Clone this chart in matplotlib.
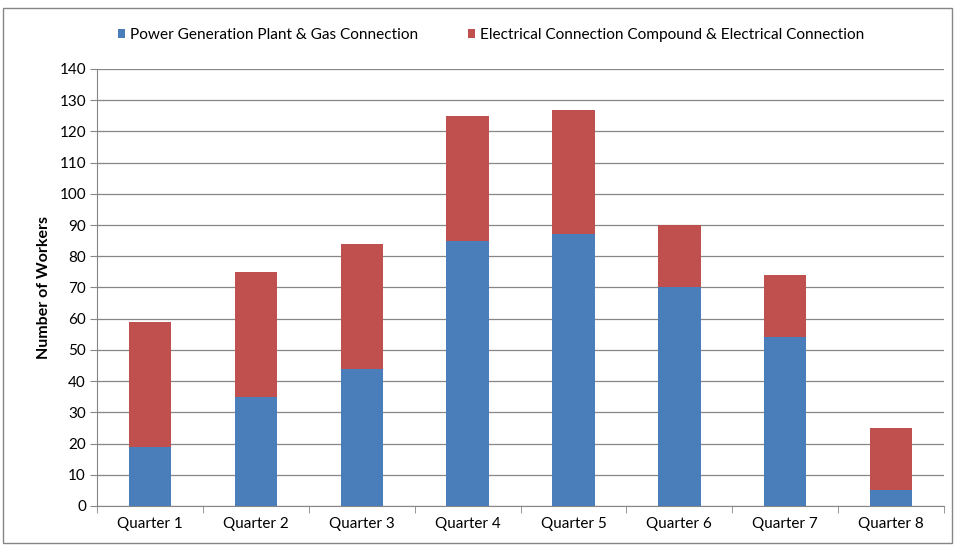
import matplotlib.pyplot as plt
from matplotlib.patches import Rectangle
import numpy as np

plt.rcParams['font.family'] = ['Lato', 'DejaVu Sans']

# Data
quarters = ['Quarter 1', 'Quarter 2', 'Quarter 3', 'Quarter 4',
            'Quarter 5', 'Quarter 6', 'Quarter 7', 'Quarter 8']
power_gas = [19, 35, 44, 85, 87, 70, 54, 5]
electrical = [40, 40, 40, 40, 40, 20, 20, 20]

blue = '#4a7ebb'
red = '#c0504d'

fig = plt.figure(figsize=(9.56, 5.47), dpi=100)
ax = fig.add_axes([0.1015, 0.075, 0.886, 0.799])

x = np.arange(len(quarters))
ax.bar(x, power_gas, width=0.4, color=blue, label='Power Generation Plant & Gas Connection', zorder=3)
ax.bar(x, electrical, width=0.4, bottom=power_gas, color=red,
       label='Electrical Connection Compound & Electrical Connection', zorder=3)

ax.set_xlim(-0.5, len(quarters) - 0.5)
ax.set_ylim(0, 140)
ax.set_yticks(range(0, 141, 10))
ax.set_xticks(x)
ax.set_xticklabels(quarters)
ax.set_xticks(np.arange(-0.5, len(quarters)), minor=True)
ax.tick_params(axis='x', which='major', length=0, pad=8, labelsize=11)
ax.tick_params(axis='x', which='minor', length=5, color='#868686')
ax.tick_params(axis='y', length=5, color='#868686', labelsize=11, pad=3)
ax.yaxis.grid(True, color='#868686', linewidth=0.9, zorder=0)

for s in ['top', 'right']:
    ax.spines[s].set_visible(False)
for s in ['left', 'bottom']:
    ax.spines[s].set_color('#868686')

ax.set_ylabel('Number of Workers', fontsize=11.5, fontweight='bold', labelpad=6)

ax.legend(loc='lower center', bbox_to_anchor=(0.465, 1.03), ncol=2, frameon=False,
          fontsize=11.1, handlelength=0.5, handleheight=0.5, handletextpad=0.3,
          columnspacing=3.2)

# outer chart frame
fig.patches.append(Rectangle((0.003, 0.008), 0.993, 0.978, transform=fig.transFigure,
                             fill=False, edgecolor='#868686', linewidth=1))

fig.savefig('out.png', dpi=100)
